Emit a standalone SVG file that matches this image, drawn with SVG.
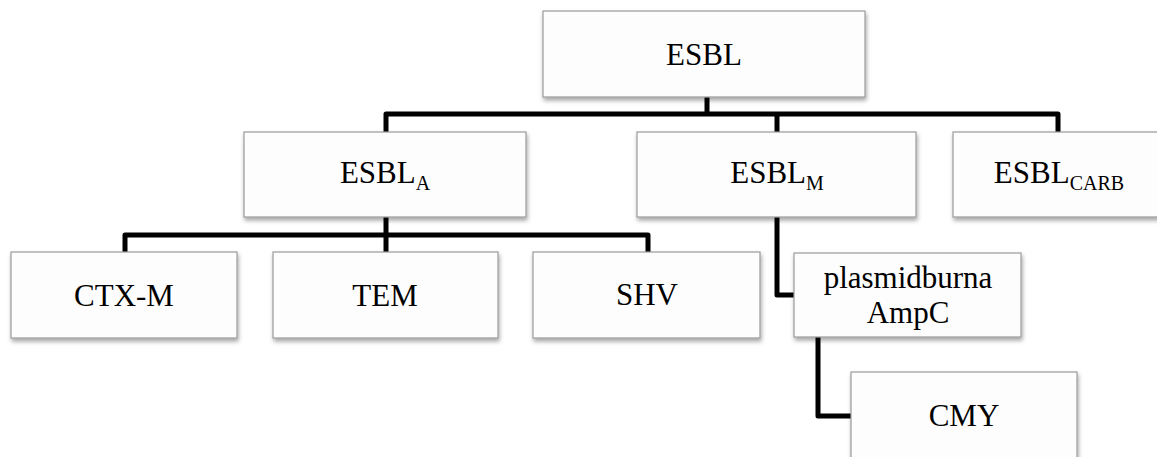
<svg xmlns="http://www.w3.org/2000/svg" width="1157" height="457" viewBox="0 0 1157 457">
  <defs>
    <filter id="sh" x="-10%" y="-10%" width="125%" height="135%">
      <feDropShadow dx="1" dy="3" stdDeviation="2" flood-color="#000" flood-opacity="0.35"/>
    </filter>
    <style>
      .box { fill: #fdfdfd; stroke: #9a9a9a; stroke-width: 1.2; filter: url(#sh); }
      .t { font-family: "Liberation Serif", "Times New Roman", serif; font-size: 31px; fill: #000; text-anchor: middle; }
      .sub { font-size: 20px; }
      .c { fill: none; stroke: #000; stroke-width: 5; stroke-linejoin: round; stroke-linecap: butt; }
    </style>
  </defs>
  <rect width="1157" height="457" fill="#fff"/>

  <g id="connectors">
    <path class="c" d="M707,97 V114"/>
    <path class="c" d="M386,132 V114 H1058 V132"/>
    <path class="c" d="M777,114 V132"/>
    <path class="c" d="M386,217 V235"/>
    <path class="c" d="M125,252 V235 H648 V252"/>
    <path class="c" d="M386,235 V252"/>
    <path class="c" d="M777,217 V295 H794"/>
    <path class="c" d="M818,337 V416 H851"/>
  </g>

  <g id="esbl">
    <rect class="box" x="543" y="11" width="322" height="86"/>
    <text class="t" x="704" y="65">ESBL</text>
  </g>
  <g id="esbl-a">
    <rect class="box" x="244" y="132" width="282" height="85"/>
    <text class="t" x="385" y="183">ESBL<tspan class="sub" dy="7">A</tspan></text>
  </g>
  <g id="esbl-m">
    <rect class="box" x="637" y="132" width="279" height="85"/>
    <text class="t" x="777" y="183">ESBL<tspan class="sub" dy="7">M</tspan></text>
  </g>
  <g id="esbl-carb">
    <rect class="box" x="953" y="132" width="212" height="85"/>
    <text class="t" x="1059" y="183">ESBL<tspan class="sub" dy="7">CARB</tspan></text>
  </g>
  <g id="ctx-m">
    <rect class="box" x="11" y="252" width="226" height="86"/>
    <text class="t" x="124" y="306">CTX-M</text>
  </g>
  <g id="tem">
    <rect class="box" x="273" y="252" width="225" height="86"/>
    <text class="t" x="385" y="306">TEM</text>
  </g>
  <g id="shv">
    <rect class="box" x="533" y="252" width="227" height="86"/>
    <text class="t" x="647" y="305">SHV</text>
  </g>
  <g id="plasmid-ampc">
    <rect class="box" x="794" y="253" width="227" height="84"/>
    <text class="t" x="908" y="288">plasmidburna</text>
    <text class="t" x="908" y="323">AmpC</text>
  </g>
  <g id="cmy">
    <rect class="box" x="851" y="372" width="226" height="95"/>
    <text class="t" x="964" y="426">CMY</text>
  </g>
</svg>
